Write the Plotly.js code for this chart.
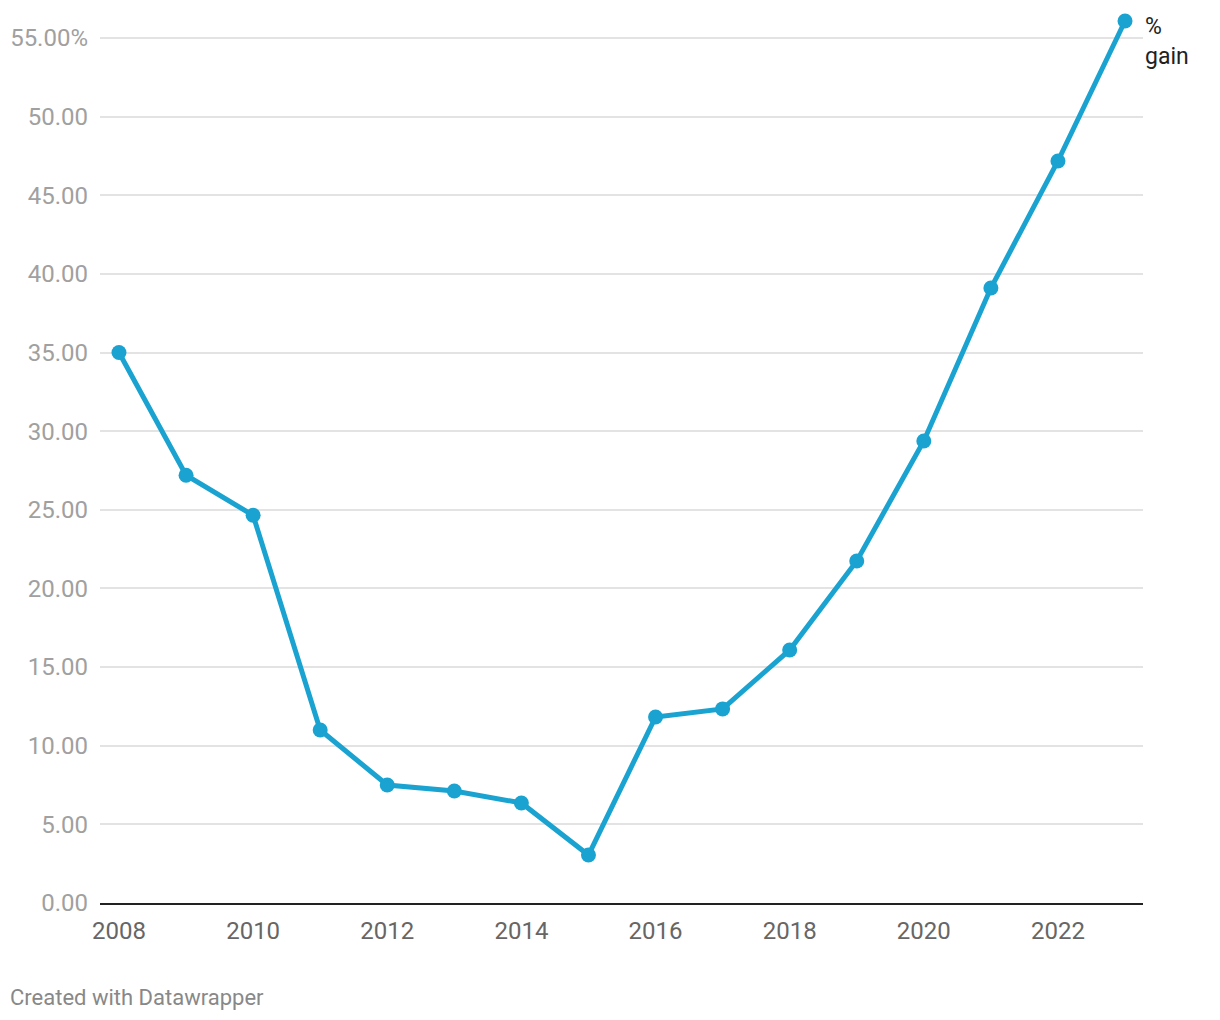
<!DOCTYPE html>
<html>
<head>
<meta charset="utf-8">
<script src="https://cdn.plot.ly/plotly-3.0.1.min.js"></script>
<style>html,body{margin:0;padding:0;background:#fff;}#chart{width:1220px;height:1020px;}</style>
</head>
<body>
<div id="chart"></div>
<script>
const years = [2008,2009,2010,2011,2012,2013,2014,2015,2016,2017,2018,2019,2020,2021,2022,2023];
const gain = [35.0,27.2,24.65,11.0,7.5,7.12,6.36,3.05,11.83,12.34,16.09,21.75,29.38,39.1,47.18,56.08];
const yTickVals = [0,5,10,15,20,25,30,35,40,45,50,55];
const yTickText = ["0.00","5.00","10.00","15.00","20.00","25.00","30.00","35.00","40.00","45.00","50.00","55.00%"];
const xTickVals = [2008,2010,2012,2014,2016,2018,2020,2022];
const seriesName = "%<br>gain";
const footer = "Created with Datawrapper";

const color = "#1aa3d0";
const trace = {
  x: years, y: gain, type: "scatter", mode: "lines+markers",
  line: {color: color, width: 5},
  marker: {color: color, size: 15},
  cliponaxis: false, hoverinfo: "x+y"
};
const layout = {
  width: 1220, height: 1020,
  margin: {l: 100, r: 77, t: 10, b: 117},
  paper_bgcolor: "#fff", plot_bgcolor: "#fff",
  showlegend: false,
  font: {family: "Roboto, sans-serif"},
  xaxis: {
    range: [2007.717, 2023.268],
    tickvals: xTickVals, ticktext: xTickVals.map(String),
    showgrid: false, zeroline: false,
    showline: true, linecolor: "#222", linewidth: 2,
    ticks: "", ticklabelstandoff: 5,
    tickfont: {size: 24, color: "#666", family: "Roboto, sans-serif"}
  },
  yaxis: {
    range: [0, 56.78],
    tickvals: yTickVals, ticktext: yTickText,
    showgrid: true, gridcolor: "#e3e3e3", gridwidth: 2,
    zeroline: false, showline: false, ticks: "", ticklabelstandoff: 11,
    tickfont: {size: 24, color: "#a0a0a0", family: "Roboto, sans-serif"}
  },
  annotations: [
    {x: years[years.length-1], y: gain[gain.length-1], xref: "x", yref: "y",
     text: seriesName, showarrow: false, xanchor: "left", yanchor: "top",
     xshift: 18, yshift: 10, align: "left",
     font: {size: 23, color: "#222", family: "Roboto, sans-serif"}},
    {x: 0, y: 0, xref: "paper", yref: "paper", xanchor: "left", yanchor: "middle",
     xshift: -92, yshift: -94, showarrow: false, text: footer,
     font: {size: 22, color: "#888", family: "Roboto, sans-serif"}}
  ]
};
Plotly.newPlot("chart", [trace], layout, {displayModeBar: false, staticPlot: true});
</script>
</body>
</html>
